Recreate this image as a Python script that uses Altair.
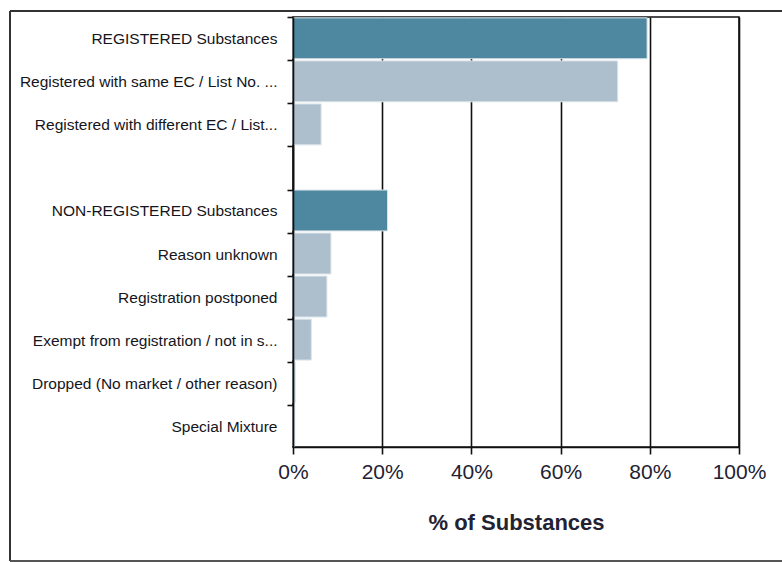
import altair as alt
import pandas as pd

# ---- data ----
categories = [
    "REGISTERED Substances",
    "Registered with same EC / List No. ...",
    "Registered with different  EC / List...",
    " ",
    "NON-REGISTERED Substances",
    "Reason  unknown",
    "Registration postponed",
    "Exempt from  registration / not in s...",
    "Dropped (No market / other  reason)",
    "Special Mixture",
]
values = [79.4, 72.8, 6.3, None, 21.2, 8.5, 7.6, 4.1, 0.5, 0.4]
levels = ["total", "sub", "sub", None, "total", "sub", "sub", "sub", "sub", "sub"]

level_names = ["total", "sub"]
level_colors = ["#4E87A0", "#ADBFCD"]

x_ticks = [0, 20, 40, 60, 80, 100]

df = pd.DataFrame({"category": categories, "value": values, "level": levels})
df = df.dropna(subset=["value"])
df["value"] = df["value"] / 100.0

FONT = "Liberation Sans"

bars = alt.Chart(df).mark_bar(stroke="#dbe4ea", strokeWidth=1).encode(
    x=alt.X(
        "value:Q",
        scale=alt.Scale(domain=[0, 1], nice=False),
        axis=alt.Axis(
            values=[t / 100 for t in x_ticks],
            format=".0%",
            title="% of Substances",
            grid=True,
            gridColor="#111111",
            gridWidth=1.6,
            gridOpacity=1,
            domainColor="#111111",
            domainWidth=1.6,
            tickColor="#111111",
            tickWidth=1.6,
            tickSize=7,
            labelPadding=7,
            labelFlush=False,
            labelFont=FONT,
            labelFontSize=21,
            labelColor="#222233",
            titleFont=FONT,
            titleFontSize=22,
            titleFontWeight="bold",
            titleColor="#222233",
            titlePadding=30,
        ),
    ),
    y=alt.Y(
        "category:N",
        sort=categories,
        scale=alt.Scale(domain=categories, paddingInner=0.05, paddingOuter=0.02),
        axis=alt.Axis(
            title=None,
            grid=False,
            bandPosition=0,
            zindex=1,
            domainColor="#111111",
            domainWidth=1.6,
            tickColor="#111111",
            tickWidth=1.6,
            tickSize=6,
            labelPadding=10,
            labelOffset=1,
            labelLimit=400,
            labelFont=FONT,
            labelFontSize=15.5,
            labelColor="#151520",
        ),
    ),
    color=alt.Color(
        "level:N",
        scale=alt.Scale(domain=level_names, range=level_colors),
        legend=None,
    ),
)

frame_left = alt.Chart(df).mark_rule(color="#333333", strokeWidth=2).encode(
    x=alt.value(-283), y=alt.value(-6), y2=alt.value(544)
)
frame_top = alt.Chart(df).mark_rule(color="#333333", strokeWidth=2).encode(
    x=alt.value(-283), x2=alt.value(489), y=alt.value(-6)
)
frame_bottom = alt.Chart(df).mark_rule(color="#555555", strokeWidth=2).encode(
    x=alt.value(-283), x2=alt.value(489), y=alt.value(544)
)

chart = (
    alt.layer(bars, frame_left, frame_top, frame_bottom)
    .properties(
        width=446,
        height=430,
        autosize=alt.AutoSizeParams(type="none"),
        padding={"left": 293, "top": 17, "right": 43, "bottom": 115},
        background="white",
    )
    .configure_view(stroke="#111111", strokeWidth=1.6)
)

chart.save("out.html", embed_options={"renderer": "svg", "actions": False})
